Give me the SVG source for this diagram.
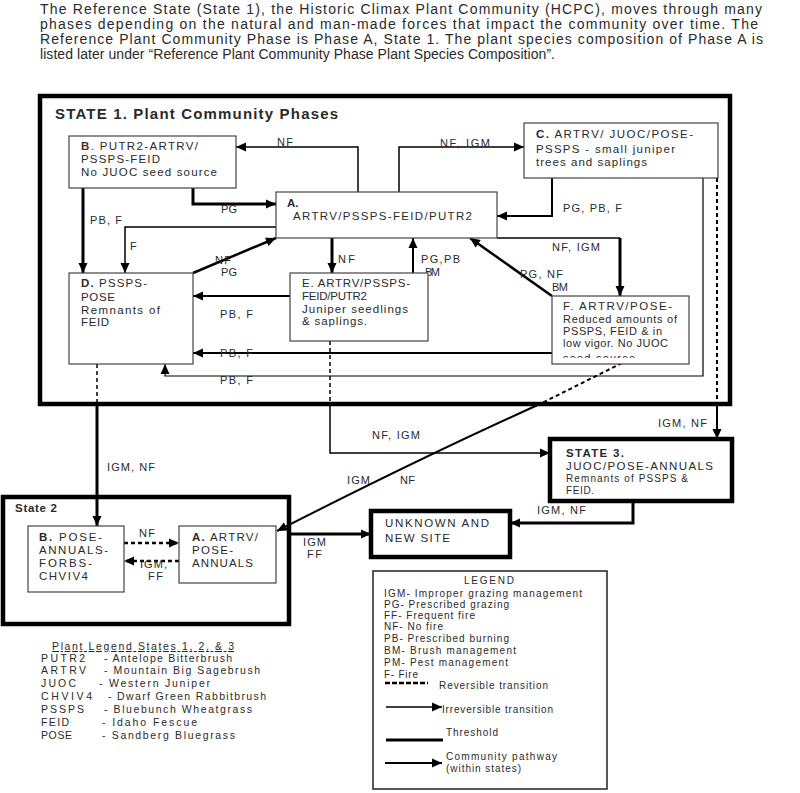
<svg xmlns="http://www.w3.org/2000/svg" width="800" height="793" viewBox="0 0 800 793">
<style>
text{font-family:"Liberation Sans",Arial,sans-serif;fill:#2a2a2a}
.p{font-size:14px}
.n{font-size:11.5px}
.l{font-size:11px}
.s{font-size:10px}
.lg{font-size:10.5px}
.b{font-weight:bold}
.box{fill:#fff;stroke:#444;stroke-width:1.2}
.st{fill:none;stroke:#000;stroke-width:4.5}
.c{fill:none;stroke:#000}
.dash{stroke-dasharray:4,3}
</style>
<defs>
<marker id="ah" markerUnits="userSpaceOnUse" markerWidth="11" markerHeight="10" refX="10" refY="4.5" orient="auto" overflow="visible"><path d="M0,0 L10,4.5 L0,9 z" fill="#000"/></marker>
<clipPath id="fclip"><rect x="552" y="296" width="137" height="62"/></clipPath>
</defs>
<rect width="800" height="793" fill="#fff"/>

<g id="intro">
<text class="p" x="40" y="14" textLength="722" lengthAdjust="spacing">The Reference State (State 1), the Historic Climax Plant Community (HCPC), moves through many</text>
<text class="p" x="40" y="29" textLength="718" lengthAdjust="spacing">phases depending on the natural and man-made forces that impact the community over time.  The</text>
<text class="p" x="40" y="44" textLength="723" lengthAdjust="spacing">Reference Plant Community Phase is Phase A, State 1.  The plant species composition of Phase A is</text>
<text class="p" x="40" y="59" textLength="515" lengthAdjust="spacing">listed later under “Reference Plant Community Phase Plant Species Composition”.</text>
</g>

<g id="state1">
<rect class="st" x="40" y="96" width="690" height="308"/>
<text class="b" x="55" y="119" font-size="15" textLength="283" lengthAdjust="spacing">STATE 1. Plant Community Phases</text>
</g>

<g id="state2">
<rect class="st" x="3" y="497" width="286" height="127"/>
<text class="n b" x="15" y="512" textLength="42" lengthAdjust="spacing">State 2</text>
</g>

<g id="connectors">
<path class="c" stroke-width="1.5" d="M358,192 V147 H236" marker-end="url(#ah)"/>
<path class="c" stroke-width="1.5" d="M399,192 V147 H524" marker-end="url(#ah)"/>
<path class="c" stroke-width="3" d="M193,188 V204 H276" marker-end="url(#ah)"/>
<path class="c" stroke-width="2" d="M552,178 V216 H497" marker-end="url(#ah)"/>
<path class="c" stroke-width="3" d="M83,188 V273" marker-end="url(#ah)"/>
<path class="c" stroke-width="1.5" d="M276,227 H125 V273" marker-end="url(#ah)"/>
<path class="c" stroke-width="3" d="M332,238 V273" marker-end="url(#ah)"/>
<path class="c" stroke-width="2" d="M413,273 V238" marker-end="url(#ah)"/>
<path class="c" stroke-width="2.5" d="M552,296 L470,238" marker-end="url(#ah)"/>
<path class="c" stroke-width="1.5" d="M497,238 H620"/>
<path class="c" stroke-width="3" d="M620,238 V296" marker-end="url(#ah)"/>
<path class="c" stroke-width="2.5" d="M193,273 L276,238" marker-end="url(#ah)"/>
<path class="c" stroke-width="2" d="M290,296 H193" marker-end="url(#ah)"/>
<path class="c" stroke-width="2" d="M552,353 H193" marker-end="url(#ah)"/>
<path class="c" stroke-width="1.2" d="M703,178 V376 H165 V364" marker-end="url(#ah)"/>
<path class="c dash" stroke-width="1.5" d="M97,364 V404"/>
<path class="c" stroke-width="3" d="M97,404 V526" marker-end="url(#ah)"/>
<path class="c dash" stroke-width="1.5" d="M330,341 V404"/>
<path class="c" stroke-width="1.5" d="M330,404 V453 H550" marker-end="url(#ah)"/>
<path class="c dash" stroke-width="2" d="M622,363 L540,404"/>
<path class="c" stroke-width="2" d="M540,404 Q420,458 277,531" marker-end="url(#ah)"/>
<path class="c dash" stroke-width="2" d="M717,178 V404"/>
<path class="c" stroke-width="2" d="M717,404 V439" marker-end="url(#ah)"/>
<path class="c" stroke-width="3" d="M633,501 V523 H510" marker-end="url(#ah)"/>
<path class="c" stroke-width="3" d="M289,534 H371" marker-end="url(#ah)"/>
<path class="c dash" stroke-width="2.5" d="M124,543 H179" marker-end="url(#ah)"/>
<path class="c dash" stroke-width="2.5" d="M179,561 H124" marker-end="url(#ah)"/>

<text class="l" x="277" y="146" textLength="16" lengthAdjust="spacing">NF</text>
<text class="l" x="440" y="147" textLength="50" lengthAdjust="spacing">NF, IGM</text>
<text class="l" x="221" y="213" textLength="16" lengthAdjust="spacing">PG</text>
<text class="l" x="90" y="224" textLength="32" lengthAdjust="spacing">PB, F</text>
<text class="l" x="130" y="250">F</text>
<text class="l" x="563" y="212" textLength="59" lengthAdjust="spacing">PG, PB, F</text>
<text class="l" x="338" y="263" textLength="17" lengthAdjust="spacing">NF</text>
<text class="l" x="421" y="263" textLength="39" lengthAdjust="spacing">PG,PB</text>
<text class="l" x="425" y="276" textLength="15" lengthAdjust="spacing">BM</text>
<text class="l" x="552" y="251" textLength="48" lengthAdjust="spacing">NF, IGM</text>
<text class="l" x="520" y="278" textLength="43" lengthAdjust="spacing">PG, NF</text>
<text class="l" x="552" y="291" textLength="16" lengthAdjust="spacing">BM</text>
<text class="l" x="215" y="264" textLength="16" lengthAdjust="spacing">NF</text>
<text class="l" x="221" y="276" textLength="16" lengthAdjust="spacing">PG</text>
<text class="l" x="220" y="318" textLength="33" lengthAdjust="spacing">PB, F</text>
<text class="l" x="220" y="357" textLength="33" lengthAdjust="spacing">PB, F</text>
<text class="l" x="220" y="384" textLength="33" lengthAdjust="spacing">PB, F</text>
<text class="l" x="107" y="471" textLength="48" lengthAdjust="spacing">IGM, NF</text>
<text class="l" x="372" y="439" textLength="48" lengthAdjust="spacing">NF, IGM</text>
<text class="l" x="347" y="484" textLength="23" lengthAdjust="spacing">IGM</text>
<text class="l" x="400" y="484" textLength="15" lengthAdjust="spacing">NF</text>
<text class="l" x="658" y="427" textLength="49" lengthAdjust="spacing">IGM, NF</text>
<text class="l" x="537" y="514" textLength="49" lengthAdjust="spacing">IGM, NF</text>
<text class="l" x="303" y="546" textLength="23" lengthAdjust="spacing">IGM</text>
<text class="l" x="307" y="558" textLength="15" lengthAdjust="spacing">FF</text>
<text class="l" x="139" y="537" textLength="16" lengthAdjust="spacing">NF</text>
<text class="l" x="140" y="568" textLength="27" lengthAdjust="spacing">IGM,</text>
<text class="l" x="148" y="580" textLength="15" lengthAdjust="spacing">FF</text>
</g>

<g id="s1-B">
<rect class="box" x="69" y="136" width="167" height="52"/>
<text class="n" x="81" y="150" textLength="117" lengthAdjust="spacing"><tspan class="b" fill="#5a2a1a">B</tspan>. PUTR2-ARTRV/</text>
<text class="n" x="81" y="163" textLength="79" lengthAdjust="spacing">PSSPS-FEID</text>
<text class="n" x="81" y="176" textLength="136" lengthAdjust="spacing">No JUOC seed source</text>
</g>

<g id="s1-A">
<rect class="box" x="276" y="192" width="221" height="46"/>
<text class="n b" x="287" y="207">A.</text>
<text class="n" x="293" y="220" textLength="179" lengthAdjust="spacing">ARTRV/PSSPS-FEID/PUTR2</text>
</g>

<g id="s1-C">
<rect class="box" x="524" y="123" width="194" height="55"/>
<text class="n" x="536" y="138" textLength="157" lengthAdjust="spacing"><tspan class="b">C.</tspan> ARTRV/ JUOC/POSE-</text>
<text class="n" x="536" y="153" textLength="139" lengthAdjust="spacing">PSSPS  - small juniper</text>
<text class="n" x="536" y="166" textLength="111" lengthAdjust="spacing">trees and saplings</text>
</g>

<g id="s1-D">
<rect class="box" x="69" y="273" width="124" height="91"/>
<text class="n" x="81" y="287" textLength="66" lengthAdjust="spacing"><tspan class="b">D.</tspan> PSSPS-</text>
<text class="n" x="81" y="301" textLength="34" lengthAdjust="spacing">POSE</text>
<text class="n" x="81" y="314" textLength="79" lengthAdjust="spacing">Remnants of</text>
<text class="n" x="81" y="326" textLength="28" lengthAdjust="spacing">FEID</text>
</g>

<g id="s1-E">
<rect class="box" x="290" y="273" width="138" height="68"/>
<text class="n" x="302" y="287" textLength="108" lengthAdjust="spacing">E. ARTRV/PSSPS-</text>
<text class="n" x="302" y="300" textLength="65" lengthAdjust="spacing">FEID/PUTR2</text>
<text class="n" x="302" y="313" textLength="106" lengthAdjust="spacing">Juniper seedlings</text>
<text class="n" x="302" y="325" textLength="65" lengthAdjust="spacing">&amp; saplings.</text>
</g>

<g id="s1-F">
<rect class="box" x="552" y="296" width="137" height="68"/>
<g clip-path="url(#fclip)">
<text class="n" x="563" y="310" textLength="109" lengthAdjust="spacing">F. ARTRV/POSE-</text>
<text class="l" x="563" y="323" textLength="114" lengthAdjust="spacing">Reduced amounts of</text>
<text class="l" x="563" y="335" textLength="99" lengthAdjust="spacing">PSSPS, FEID &amp; in</text>
<text class="l" x="563" y="347" textLength="105" lengthAdjust="spacing">low vigor. No JUOC</text>
<text class="l" x="563" y="362" textLength="72" lengthAdjust="spacing">seed source</text>
</g>
</g>

<g id="state3">
<rect class="st" x="550" y="439" width="182" height="62" stroke-width="4"/>
<text class="n b" x="566" y="457" textLength="58" lengthAdjust="spacing">STATE 3.</text>
<text class="n" x="566" y="470" textLength="147" lengthAdjust="spacing">JUOC/POSE-ANNUALS</text>
<text class="s" x="566" y="482" textLength="122" lengthAdjust="spacing">Remnants of PSSPS &amp;</text>
<text class="s" x="566" y="494" textLength="28" lengthAdjust="spacing">FEID.</text>
</g>

<g id="unknown">
<rect class="st" x="371" y="511" width="139" height="46" stroke-width="4"/>
<text class="n" x="385" y="527" textLength="104" lengthAdjust="spacing">UNKNOWN AND</text>
<text class="n" x="385" y="542" textLength="65" lengthAdjust="spacing">NEW SITE</text>
</g>

<g id="s2-B">
<rect class="box" x="28" y="526" width="96" height="66"/>
<text class="n" x="39" y="541" textLength="63" lengthAdjust="spacing"><tspan class="b">B.</tspan> POSE-</text>
<text class="n" x="39" y="554" textLength="69" lengthAdjust="spacing">ANNUALS-</text>
<text class="n" x="39" y="567" textLength="53" lengthAdjust="spacing">FORBS-</text>
<text class="n" x="39" y="580" textLength="49" lengthAdjust="spacing">CHVIV4</text>
</g>

<g id="s2-A">
<rect class="box" x="179" y="526" width="97" height="57"/>
<text class="n" x="192" y="541" textLength="66" lengthAdjust="spacing"><tspan class="b">A.</tspan> ARTRV/</text>
<text class="n" x="192" y="554" textLength="41" lengthAdjust="spacing">POSE-</text>
<text class="n" x="192" y="567" textLength="61" lengthAdjust="spacing">ANNUALS</text>
</g>

<g id="legend">
<rect x="373" y="571" width="234" height="218" fill="#fff" stroke="#222" stroke-width="1.5"/>
<text class="s" x="464" y="584" textLength="50" lengthAdjust="spacing">LEGEND</text>
<text class="s" x="384" y="597" textLength="198" lengthAdjust="spacing">IGM- Improper grazing management</text>
<text class="s" x="384" y="608" textLength="125" lengthAdjust="spacing">PG- Prescribed grazing</text>
<text class="s" x="384" y="619" textLength="91" lengthAdjust="spacing">FF- Frequent fire</text>
<text class="s" x="384" y="630" textLength="59" lengthAdjust="spacing">NF- No fire</text>
<text class="s" x="384" y="642" textLength="125" lengthAdjust="spacing">PB- Prescribed burning</text>
<text class="s" x="384" y="654" textLength="132" lengthAdjust="spacing">BM- Brush management</text>
<text class="s" x="384" y="666" textLength="124" lengthAdjust="spacing">PM- Pest management</text>
<text class="s" x="384" y="678" textLength="34" lengthAdjust="spacing">F- Fire</text>
<path class="c" stroke-width="2.5" stroke-dasharray="5,2" d="M385,683 H428"/>
<text class="s" x="439" y="689" textLength="109" lengthAdjust="spacing">Reversible transition</text>
<path class="c" stroke-width="1.5" d="M386,707 H442" marker-end="url(#ah)"/>
<text class="s" x="442" y="713" textLength="111" lengthAdjust="spacing">Irreversible transition</text>
<path class="c" stroke-width="3" d="M386,740 H443"/>
<text class="s" x="446" y="736" textLength="52" lengthAdjust="spacing">Threshold</text>
<path class="c" stroke-width="2" d="M385,763 H442" marker-end="url(#ah)"/>
<text class="s" x="446" y="760" textLength="111" lengthAdjust="spacing">Community pathway</text>
<text class="s" x="446" y="772" textLength="75" lengthAdjust="spacing">(within states)</text>
</g>

<g id="plant-legend">
<text class="lg" x="52" y="650" textLength="182" lengthAdjust="spacing" text-decoration="underline">Plant Legend  States 1, 2, &amp; 3</text>
<text class="lg" x="41" y="662" textLength="44" lengthAdjust="spacing">PUTR2</text>
<text class="lg" x="104" y="662" textLength="128" lengthAdjust="spacing">-  Antelope Bitterbrush</text>
<text class="lg" x="41" y="674" textLength="45" lengthAdjust="spacing">ARTRV</text>
<text class="lg" x="104" y="674" textLength="156" lengthAdjust="spacing">-  Mountain Big Sagebrush</text>
<text class="lg" x="41" y="687" textLength="35" lengthAdjust="spacing">JUOC</text>
<text class="lg" x="99" y="687" textLength="111" lengthAdjust="spacing">-  Western Juniper</text>
<text class="lg" x="41" y="700" textLength="51" lengthAdjust="spacing">CHVIV4</text>
<text class="lg" x="108" y="700" textLength="158" lengthAdjust="spacing">- Dwarf Green Rabbitbrush</text>
<text class="lg" x="41" y="713" textLength="43" lengthAdjust="spacing">PSSPS</text>
<text class="lg" x="104" y="713" textLength="148" lengthAdjust="spacing">-  Bluebunch Wheatgrass</text>
<text class="lg" x="41" y="726" textLength="28" lengthAdjust="spacing">FEID</text>
<text class="lg" x="102" y="726" textLength="95" lengthAdjust="spacing">-  Idaho Fescue</text>
<text class="lg" x="41" y="739" textLength="31" lengthAdjust="spacing">POSE</text>
<text class="lg" x="102" y="739" textLength="133" lengthAdjust="spacing">-  Sandberg Bluegrass</text>
</g>
</svg>
